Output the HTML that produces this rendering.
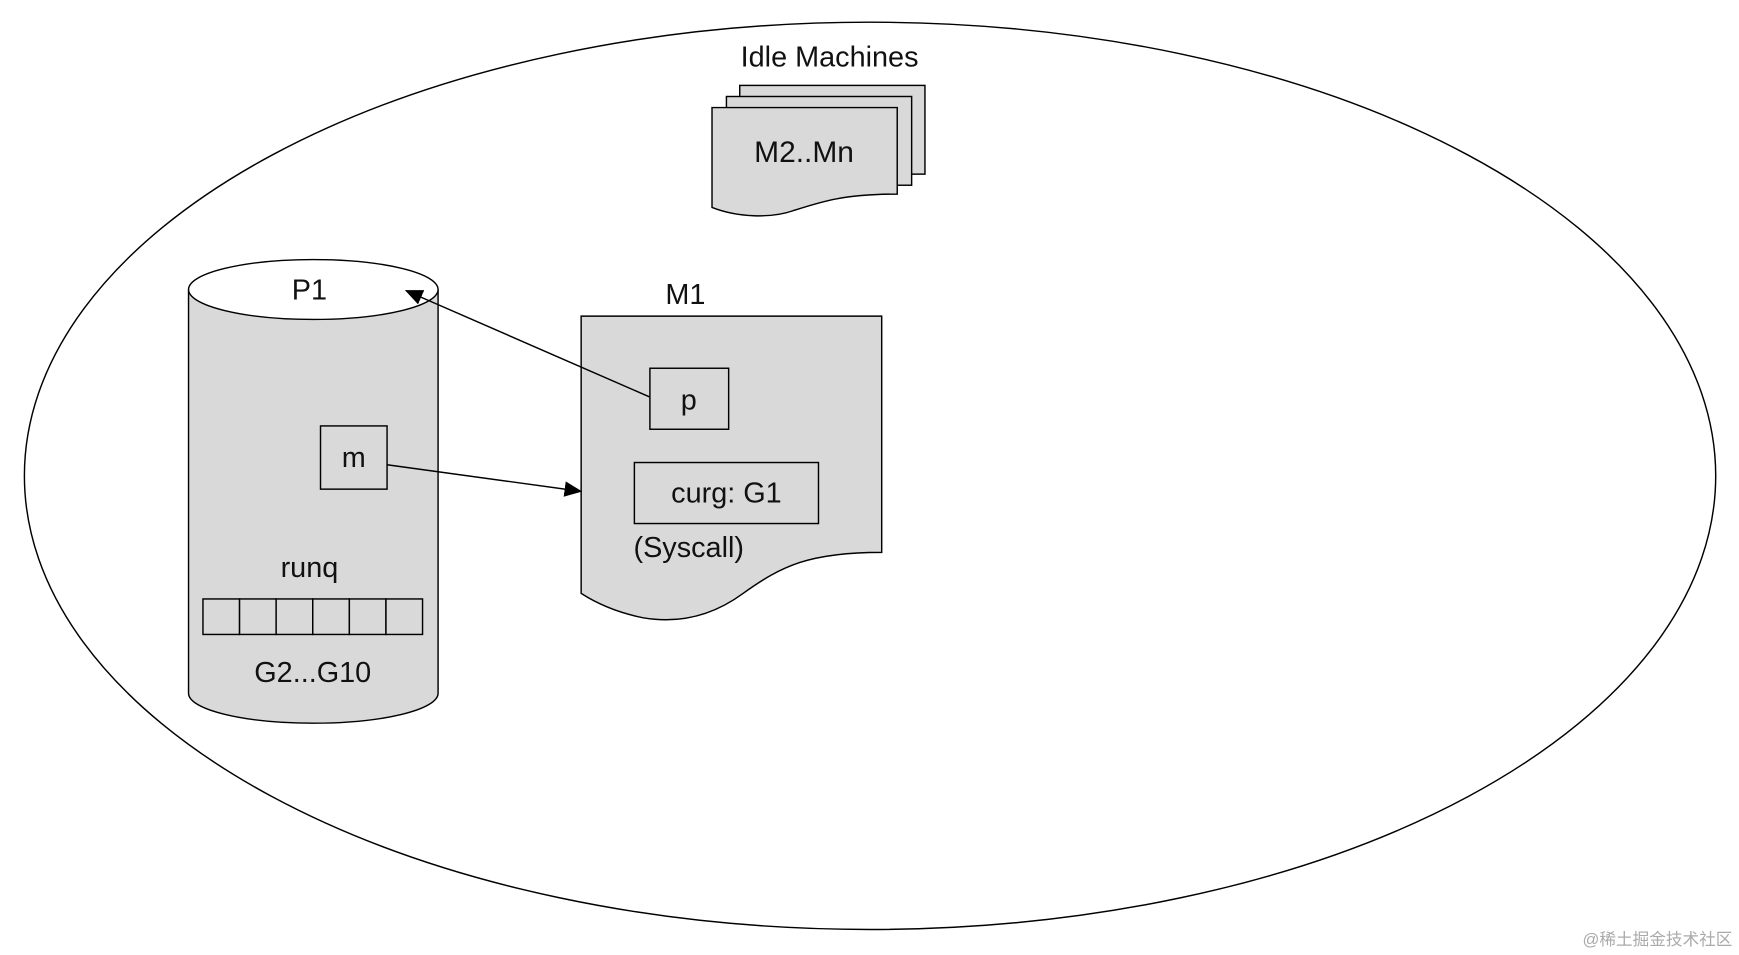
<!DOCTYPE html>
<html><head><meta charset="utf-8">
<style>
html,body{margin:0;padding:0;background:#fff;}
svg{display:block;}
text{font-family:"Liberation Sans","Noto Sans CJK SC",sans-serif;fill:#111;}
</style></head>
<body>
<svg width="1739" height="955" viewBox="0 0 1568 861" preserveAspectRatio="none" xmlns="http://www.w3.org/2000/svg">
<defs>
<marker id="ah" markerWidth="16" markerHeight="14" refX="15" refY="7" orient="auto" markerUnits="userSpaceOnUse">
<path d="M0,0 L16,7 L0,14 Z" fill="#000"/>
</marker>
</defs>
<rect width="1568" height="861" fill="#fff"/>
<ellipse cx="784.5" cy="429" rx="762.5" ry="409" fill="none" stroke="#000" stroke-width="1.3"/>

<text x="748" y="60" font-size="26" text-anchor="middle">Idle Machines</text>
<rect x="667" y="77" width="167" height="80" fill="#d9d9d9" stroke="#000" stroke-width="1.3"/>
<rect x="655" y="87" width="167" height="80" fill="#d9d9d9" stroke="#000" stroke-width="1.3"/>
<path d="M642,97 H809 V175 C760,175 740,182 715,190 C695,197 665,196 642,187 Z" fill="#d9d9d9" stroke="#000" stroke-width="1.3"/>
<text x="725" y="146" font-size="27" text-anchor="middle">M2..Mn</text>

<path d="M170,261 V625 A112.5,27 0 0 0 395,625 V261" fill="#d9d9d9" stroke="#000" stroke-width="1.3"/>
<ellipse cx="282.5" cy="261" rx="112.5" ry="27" fill="#fff" stroke="#000" stroke-width="1.3"/>
<text x="279" y="270" font-size="26" text-anchor="middle">P1</text>
<rect x="289" y="384" width="60" height="57" fill="#d9d9d9" stroke="#000" stroke-width="1.3"/>
<text x="319" y="421" font-size="26" text-anchor="middle">m</text>
<text x="279" y="520" font-size="26" text-anchor="middle">runq</text>
<g fill="#d9d9d9" stroke="#000" stroke-width="1.3">
<rect x="183" y="540" width="33" height="32"/><rect x="216" y="540" width="33" height="32"/>
<rect x="249" y="540" width="33" height="32"/><rect x="282" y="540" width="33" height="32"/>
<rect x="315" y="540" width="33" height="32"/><rect x="348" y="540" width="33" height="32"/>
</g>
<text x="282" y="615" font-size="26" text-anchor="middle">G2...G10</text>

<text x="618" y="274" font-size="26" text-anchor="middle">M1</text>
<path d="M524,285 H795 V498 C730,498 705,510 670,535 C640,557 610,562 580,557 C555,552 538,544 524,535 Z" fill="#d9d9d9" stroke="#000" stroke-width="1.3"/>
<rect x="586" y="332" width="71" height="55" fill="#d9d9d9" stroke="#000" stroke-width="1.3"/>
<text x="621" y="369" font-size="26" text-anchor="middle">p</text>
<rect x="572" y="417" width="166" height="55" fill="#d9d9d9" stroke="#000" stroke-width="1.3"/>
<text x="655" y="453" font-size="26" text-anchor="middle">curg: G1</text>
<text x="621" y="502" font-size="26" text-anchor="middle">(Syscall)</text>

<line x1="586" y1="358" x2="366" y2="262" stroke="#000" stroke-width="1.3" marker-end="url(#ah)"/>
<line x1="349" y1="419" x2="524" y2="443" stroke="#000" stroke-width="1.3" marker-end="url(#ah)"/>

<text x="1562" y="852" font-size="15" text-anchor="end" style="fill:#aaa">@稀土掘金技术社区</text>
</svg>
</body></html>
